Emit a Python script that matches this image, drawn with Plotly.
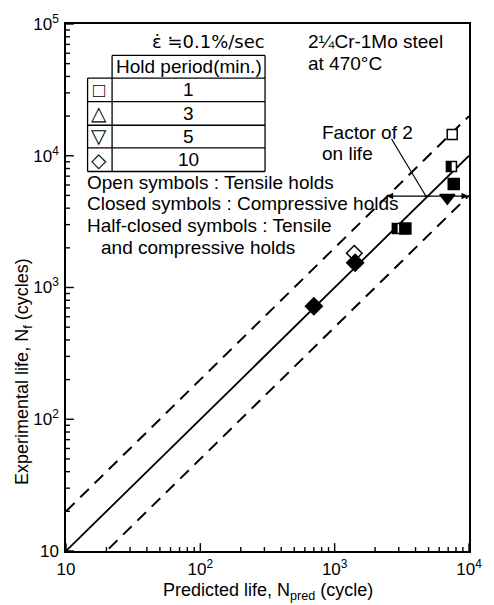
import math
import plotly.graph_objects as go

# ---- data ----
open_sq_x = [7500]
open_sq_y = [14500]
half_sq_x = [7400, 2930]
half_sq_y = [8300, 2800]
closed_sq_x = [7700, 3360]
closed_sq_y = [6100, 2800]
closed_tri_x = [6900]
closed_tri_y = [4800]
open_dia_x = [1400]
open_dia_y = [1820]
closed_dia_x = [1420, 700]
closed_dia_y = [1540, 720]

line_x = [10, 10000]
factor = 2

x_tickvals = [10, 100, 1000, 10000]
x_ticktext = ["10", "10<sup>2</sup>", "10<sup>3</sup>", "10<sup>4</sup>"]
y_tickvals = [10, 100, 1000, 10000, 100000]
y_ticktext = ["10", "10<sup>2</sup>", "10<sup>3</sup>", "10<sup>4</sup>", "10<sup>5</sup>"]

hold_periods = ["1", "3", "5", "10"]
hold_symbols = ["□", "△", "▽", "◇"]

W, H = 494, 605
L, R, T, B = 66, 477, 15, 551
XR = [1, 4]
YR = [1, 5]
FONT = "Liberation Sans, Arial, sans-serif"
FS = 19
PW, PH = R - L, B - T


def px(x):
    return (x - L) / PW


def py(y):
    return (B - y) / PH


def fx(v):  # data value -> paper fraction on the log x axis
    return (math.log10(v) - XR[0]) / (XR[1] - XR[0])


def fy(v):  # data value -> paper fraction on the log y axis
    return (math.log10(v) - YR[0]) / (YR[1] - YR[0])


fig = go.Figure()

# reference lines
fig.add_trace(go.Scatter(x=line_x, y=line_x, mode="lines",
                         line=dict(color="black", width=1.8), showlegend=False))
fig.add_trace(go.Scatter(x=line_x, y=[v * factor for v in line_x], mode="lines",
                         line=dict(color="black", width=2, dash="12px,8px"), showlegend=False))
fig.add_trace(go.Scatter(x=line_x, y=[v / factor for v in line_x], mode="lines",
                         line=dict(color="black", width=2, dash="12px,8px"), showlegend=False))

mk = dict(color="black", line=dict(color="black", width=1.5))
fig.add_trace(go.Scatter(x=open_sq_x, y=open_sq_y, mode="markers",
                         marker=dict(symbol="square", size=10, color="white",
                                     line=dict(color="black", width=1.5)), showlegend=False))
fig.add_trace(go.Scatter(x=half_sq_x, y=half_sq_y, mode="markers",
                         marker=dict(symbol="square", size=10, color="white",
                                     line=dict(color="black", width=1.5)), showlegend=False))
fig.add_trace(go.Scatter(x=closed_sq_x, y=closed_sq_y, mode="markers",
                         marker=dict(symbol="square", size=11, **mk), showlegend=False))
fig.add_trace(go.Scatter(x=closed_tri_x, y=closed_tri_y, mode="markers",
                         marker=dict(symbol="triangle-down", size=13, **mk), showlegend=False))
fig.add_trace(go.Scatter(x=open_dia_x, y=open_dia_y, mode="markers",
                         marker=dict(symbol="diamond", size=12, color="white",
                                     line=dict(color="black", width=1.5)), showlegend=False))
fig.add_trace(go.Scatter(x=closed_dia_x, y=closed_dia_y, mode="markers",
                         marker=dict(symbol="diamond", size=13, **mk), showlegend=False))

shapes = []
# half-filled squares: left half black (5 px wide, 10 px tall)
for hx, hy in zip(half_sq_x, half_sq_y):
    cx, cy = fx(hx), fy(hy)
    shapes.append(dict(type="rect", xref="paper", yref="paper",
                       x0=cx - 5 / PW, x1=cx, y0=cy - 5 / PH, y1=cy + 5 / PH,
                       fillcolor="black", line=dict(color="black", width=0.5)))

# inward tick marks
minor_x = [m * 10 ** e for e in range(1, 4) for m in range(2, 10)]
minor_y = [m * 10 ** e for e in range(1, 5) for m in range(2, 10)]
for vals, ln in ((x_tickvals, 8), (minor_x, 4)):
    for v in vals:
        shapes.append(dict(type="line", xref="paper", yref="paper", x0=fx(v), x1=fx(v),
                           y0=0, y1=ln / PH, line=dict(color="black", width=1.4)))
for vals, ln in ((y_tickvals, 8), (minor_y, 4)):
    for v in vals:
        shapes.append(dict(type="line", xref="paper", yref="paper", y0=fy(v), y1=fy(v),
                           x0=0, x1=ln / PW, line=dict(color="black", width=1.4)))


def hline(x0, x1, y):
    shapes.append(dict(type="line", xref="paper", yref="paper", x0=px(x0), x1=px(x1),
                       y0=py(y), y1=py(y), line=dict(color="black", width=1.3)))


def vline(x, y0, y1):
    shapes.append(dict(type="line", xref="paper", yref="paper", x0=px(x), x1=px(x),
                       y0=py(y0), y1=py(y1), line=dict(color="black", width=1.3)))


# table lines
hline(113, 269, 47)
for yy in [70, 94, 118, 141, 165]:
    hline(88, 269, yy)
vline(88, 70, 165)
vline(113, 47, 165)
vline(269, 47, 165)

# leader line from "Factor of 2"
shapes.append(dict(type="line", xref="paper", yref="paper", x0=px(398), y0=py(132),
                   x1=px(433), y1=py(190), line=dict(color="black", width=1.2)))

ann = []


def text(x, y, s, anchor="left", size=FS, angle=0, family=FONT):
    ann.append(dict(x=px(x), y=py(y), xref="paper", yref="paper", text=s, showarrow=False,
                    xanchor=anchor, yanchor="middle", textangle=angle,
                    font=dict(family=family, size=size, color="black")))


text(211, 33, "ε\u0307 ≒0.1%/sec", "center", family="DejaVu Sans, " + FONT, size=18)
text(191, 58, "Hold period(min.)", "center")
row_y = [82, 106, 129, 153]
for s, sym, yy in zip(hold_periods, hold_symbols, row_y):
    text(191, yy, s, "center")
    text(100, yy, sym, "center", 20)

text(311, 33, "2¼Cr-1Mo steel")
text(311, 55, "at 470°C")
text(325, 125, "Factor of 2")
text(325, 147, "on life")
text(85, 176, "Open symbols : Tensile holds")
text(85, 198, "Closed symbols : Compressive holds")
text(85, 220, "Half-closed symbols : Tensile")
text(100, 242, "and compressive holds")

# axis titles
text(272, 592, "Predicted life, N<sub>pred</sub> (cycle)", "center", size=18)
text(22, 368, "Experimental life, N<sub>f</sub> (cycles)", "center", size=18, angle=-90)

# factor-of-2 double arrow
ann.append(dict(x=px(393), y=py(190), xref="paper", yref="paper", text="", showarrow=True,
                ax=45, ay=0, arrowhead=2, arrowsize=1, arrowwidth=1.3, arrowcolor="black"))
ann.append(dict(x=px(476), y=py(190), xref="paper", yref="paper", text="", showarrow=True,
                ax=-45, ay=0, arrowhead=2, arrowsize=1, arrowwidth=1.3, arrowcolor="black"))

axis_common = dict(type="log", showgrid=False, zeroline=False, showline=True, linecolor="black",
                   linewidth=1.5, mirror=True, ticks="", ticklabelstandoff=2,
                   tickfont=dict(family=FONT, size=17, color="black"), tickmode="array")

fig.update_layout(
    xaxis=dict(range=XR, tickvals=x_tickvals, ticktext=x_ticktext, **axis_common),
    yaxis=dict(range=YR, tickvals=y_tickvals, ticktext=y_ticktext, **axis_common),
)

fig.update_layout(width=W, height=H, margin=dict(l=L, r=W - R, t=T, b=H - B),
                  plot_bgcolor="white", paper_bgcolor="white", shapes=shapes, annotations=ann,
                  showlegend=False)

fig.write_html("out.html")
